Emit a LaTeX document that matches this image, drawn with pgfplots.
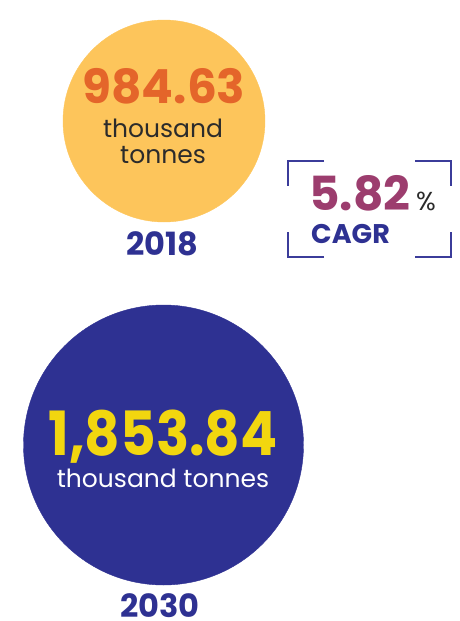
\documentclass[border=0pt]{standalone}
\usepackage{pgfplots}
\pgfplotsset{compat=1.18}
\usepackage{fontspec}
\setmainfont{Poppins}
\definecolor{circA}{HTML}{FDC55B}
\definecolor{numA}{HTML}{E4652A}
\definecolor{navy}{HTML}{2E3192}
\definecolor{numB}{HTML}{F2D60F}
\definecolor{purp}{HTML}{9C3D6E}
\definecolor{darktxt}{HTML}{2B2B2B}
\definecolor{brack}{HTML}{3B3C9A}
\pgfplotsset{txt/.style n args={3}{only marks, mark=none, nodes near coords, point meta=explicit symbolic,
  every node near coord/.append style={anchor=#1, inner sep=0pt, text=#2, font=#3}}}
\begin{document}
\begin{tikzpicture}
\begin{axis}[
  width=460pt, height=621pt, scale only axis,
  xmin=0, xmax=460, ymin=0, ymax=621, y dir=reverse,
  hide axis, clip=false,
]
\path (rel axis cs:0,0) rectangle (rel axis cs:1,1);
% circles (2018: 984.63, 2030: 1853.84 thousand tonnes)
\addplot[only marks, mark=*, mark size=101pt, color=circA, mark options={fill=circA, draw=circA}] coordinates {(164,121)};
\addplot[only marks, mark=*, mark size=140pt, color=navy, mark options={fill=navy, draw=navy}] coordinates {(163.5,445)};
% values
\addplot[txt={base}{numA}{\fontsize{47}{47}\selectfont\bfseries}] coordinates {(164,103) [984.63]};
\addplot[txt={base}{numB}{\fontsize{61}{61}\selectfont\bfseries},
  nodes near coords={\scalebox{0.9}[1]{\pgfplotspointmeta}}] coordinates {(163,455) [{1,853.84}]};
\addplot[txt={base west}{purp}{\fontsize{47}{47}\selectfont\bfseries}] coordinates {(309,210) [5.82]};
% texts
\addplot[txt={base}{darktxt}{\fontsize{25}{25}\selectfont}] coordinates {(163,137) [thousand] (163,163) [tonnes]};
\addplot[txt={base}{white}{\fontsize{25}{25}\selectfont}] coordinates {(163,487) [thousand tonnes]};
\addplot[txt={base}{navy}{\fontsize{32}{32}\selectfont\bfseries}] coordinates {(162.5,255) [2018] (160,617) [2030]};
\addplot[txt={base west}{darktxt}{\fontsize{26}{26}\selectfont}] coordinates {(416,210) [\%]};
\addplot[txt={base west}{navy}{\fontsize{27}{27}\selectfont\bfseries}] coordinates {(311,243) [CAGR]};
% bracket corners
\draw[brack, line width=2pt] (axis cs:324,161) -- (axis cs:288,161) -- (axis cs:288,186);
\draw[brack, line width=2pt] (axis cs:415,161) -- (axis cs:451,161) -- (axis cs:451,186);
\draw[brack, line width=2pt] (axis cs:324,257) -- (axis cs:288,257) -- (axis cs:288,232);
\draw[brack, line width=2pt] (axis cs:415,257) -- (axis cs:451,257) -- (axis cs:451,232);
\end{axis}
\end{tikzpicture}
\end{document}
